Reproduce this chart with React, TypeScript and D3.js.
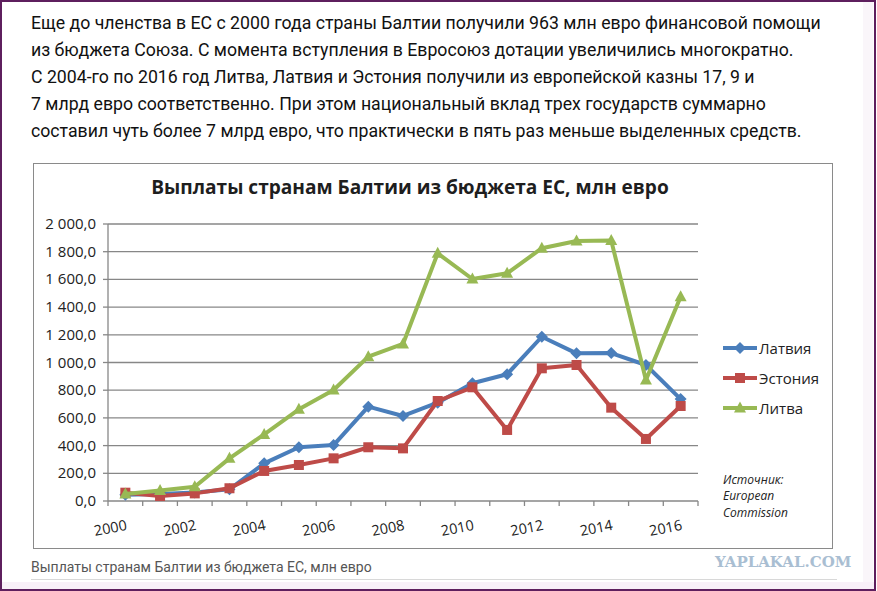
import React from "react";
import * as d3 from "d3";

// data (млн евро)
const years = ["2000", "2001", "2002", "2003", "2004", "2005", "2006", "2007", "2008", "2009", "2010", "2011", "2012", "2013", "2014", "2015", "2016"];
const latvia = [45, 50, 62, 84, 272, 388, 404, 681, 614, 710, 850, 915, 1186, 1066, 1068, 982, 736];
const estonia = [60, 36, 55, 92, 217, 260, 308, 388, 380, 722, 821, 513, 958, 982, 674, 448, 686];
const lithuania = [50, 75, 103, 308, 481, 662, 801, 1042, 1134, 1788, 1603, 1644, 1825, 1877, 1880, 874, 1475];
const yTicks = [0, 200, 400, 600, 800, 1000, 1200, 1400, 1600, 1800, 2000];
const xLabels = ["2000", "2002", "2004", "2006", "2008", "2010", "2012", "2014", "2016"];

const introLines = [
  "Еще до членства в ЕС с 2000 года страны Балтии получили 963 млн евро финансовой помощи",
  "из бюджета Союза. С момента вступления в Евросоюз дотации увеличились многократно.",
  "С 2004-го по 2016 год Литва, Латвия и Эстония получили из европейской казны 17, 9 и",
  "7 млрд евро соответственно. При этом национальный вклад трех государств суммарно",
  "составил чуть более 7 млрд евро, что практически в пять раз меньше выделенных средств.",
];

const series = [
  { name: "Латвия", values: latvia, color: "#4a7ebb", marker: "diamond" },
  { name: "Эстония", values: estonia, color: "#be4b48", marker: "square" },
  { name: "Литва", values: lithuania, color: "#98b954", marker: "triangle" },
];

const W = 877;
const H = 591;
const plot = { left: 108, right: 698, top: 224, bottom: 501 };

const ruFormat = d3.formatLocale({ decimal: ",", thousands: " ", grouping: [3], currency: ["", ""] }).format(",.1f");

const Marker = ({ type, x, y, color }) => {
  if (type === "diamond") {
    return <path d={`M${x},${y - 6}L${x + 6},${y}L${x},${y + 6}L${x - 6},${y}Z`} fill={color} />;
  }
  if (type === "square") {
    return <rect x={x - 5} y={y - 5} width={10} height={10} fill={color} />;
  }
  return <path d={`M${x},${y - 6.5}L${x + 6},${y + 4.5}L${x - 6},${y + 4.5}Z`} fill={color} />;
};

export default function App() {
  const x = d3.scaleBand().domain(years).range([plot.left, plot.right]).padding(0);
  const y = d3.scaleLinear().domain([0, 2000]).range([plot.bottom, plot.top]);
  const bw = x.bandwidth();
  const cx = (yr) => x(yr) + bw / 2;

  const line = d3
    .line<number>()
    .x((_, i) => cx(years[i]))
    .y((d) => y(d));

  const tickXs = years.map((yr) => x(yr)).concat([plot.right]);
  const grey = "#878787";
  const axisFont = "'Open Sans', sans-serif";

  return (
    <svg width={W} height={H} style={{ position: "absolute", left: 0, top: 0 }}>
      <rect x={0} y={0} width={W} height={H} fill="#ffffff" />
      <rect x={863} y={2} width={10} height={H - 4} fill="#faf6fa" />
      <rect x={2} y={582} width={W - 4} height={7} fill="#f8f0f8" />
      <rect x={1} y={1} width={W - 3} height={H - 2} fill="none" stroke="#5e1f5e" strokeWidth={2} />

      {/* intro text */}
      <g fontFamily="Roboto, sans-serif" fontSize={17.7} fill="#111">
        {introLines.map((t, i) => (
          <text key={i} x={31} y={29 + i * 27}>
            {t}
          </text>
        ))}
      </g>

      {/* chart box */}
      <rect x={33.5} y={163.5} width={799} height={385} fill="#fff" stroke="#8a8a8a" strokeWidth={1} />

      <text x={410} y={194} textAnchor="middle" fontFamily={axisFont} fontWeight="bold" fontSize={19.1} fill="#1e1e1e">
        Выплаты странам Балтии из бюджета ЕС, млн евро
      </text>

      {/* grid + y axis */}
      {yTicks.map((t) => (
        <g key={t}>
          {t > 0 && <line x1={plot.left} x2={plot.right} y1={y(t)} y2={y(t)} stroke={grey} strokeWidth={1.3} />}
          <line x1={plot.left - 5} x2={plot.left} y1={y(t)} y2={y(t)} stroke={grey} strokeWidth={1.3} />
          <text x={96} y={y(t) + 5} textAnchor="end" fontFamily={axisFont} fontSize={15} fill="#222">
            {ruFormat(t)}
          </text>
        </g>
      ))}
      <line x1={plot.left} x2={plot.left} y1={plot.top} y2={plot.bottom} stroke={grey} strokeWidth={1.3} />
      <line x1={plot.left} x2={plot.right} y1={plot.bottom} y2={plot.bottom} stroke={grey} strokeWidth={1.3} />
      {tickXs.map((tx, i) => (
        <line key={i} x1={tx} x2={tx} y1={plot.bottom} y2={plot.bottom + 5} stroke={grey} strokeWidth={1.3} />
      ))}
      {xLabels.map((yr) => {
        const lx = cx(yr) - 15;
        const ly = 533;
        return (
          <text key={yr} x={lx} y={ly} textAnchor="middle" transform={`rotate(-11, ${lx}, ${ly - 5})`} fontFamily={axisFont} fontSize={14.5} fill="#222">
            {yr}
          </text>
        );
      })}

      {/* series */}
      {series.map((s) => (
        <g key={s.name}>
          <path d={line(s.values)} fill="none" stroke={s.color} strokeWidth={4} strokeLinejoin="round" />
          {s.values.map((v, i) => (
            <Marker key={i} type={s.marker} x={cx(years[i])} y={y(v)} color={s.color} />
          ))}
        </g>
      ))}

      {/* legend */}
      {series.map((s, i) => {
        const ly = 348 + i * 30;
        return (
          <g key={s.name}>
            <line x1={723} x2={757} y1={ly} y2={ly} stroke={s.color} strokeWidth={4} />
            <Marker type={s.marker} x={740} y={ly} color={s.color} />
            <text x={759} y={ly + 6} fontFamily={axisFont} fontSize={15} fill="#222">
              {s.name}
            </text>
          </g>
        );
      })}

      <g fontFamily={axisFont} fontStyle="italic" fontSize={12} fill="#222">
        <text x={723} y={484}>Источник:</text>
        <text x={723} y={500}>European</text>
        <text x={723} y={517}>Commission</text>
      </g>

      {/* caption */}
      <text x={31} y={572} fontFamily="Roboto, sans-serif" fontSize={14} fill="#555">
        Выплаты странам Балтии из бюджета ЕС, млн евро
      </text>
      <line x1={31} x2={837} y1={579.5} y2={579.5} stroke="#d8d8d8" strokeWidth={1} />
      <text x={715} y={567} fontFamily="'DejaVu Serif', serif" fontWeight="bold" fontSize={15} fill="#a9bed2">
        YAPLAKAL.COM
      </text>
    </svg>
  );
}
